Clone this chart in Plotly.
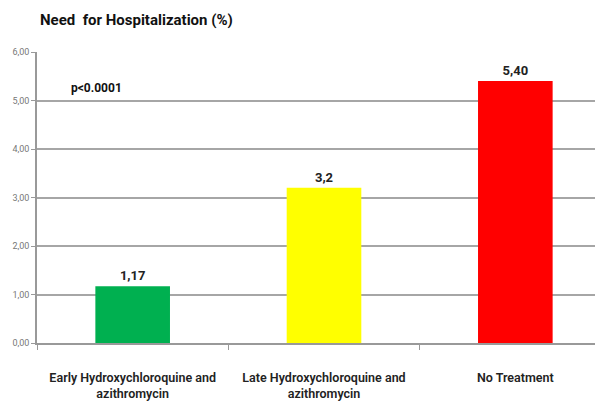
import plotly.graph_objects as go

categories = ["Early Hydroxychloroquine and<br>azithromycin",
              "Late Hydroxychloroquine and<br>azithromycin",
              "No Treatment"]
values = [1.17, 3.2, 5.40]
value_labels = ["1,17", "3,2", "5,40"]
colors = ["#00B050", "#FFFF00", "#FF0000"]
y_ticks = [0, 1, 2, 3, 4, 5, 6]
y_tick_labels = ["0,00", "1,00", "2,00", "3,00", "4,00", "5,00", "6,00"]

FONT = "Roboto, sans-serif"

fig = go.Figure()
fig.add_trace(go.Bar(
    x=categories, y=values, marker_color=colors, width=0.39,
    text=value_labels, textposition="outside", cliponaxis=False,
    texttemplate="<b>%{text}</b>",
    textfont=dict(family=FONT, size=13, color="#222222"),
    marker_line_width=0,
))

fig.update_layout(
    width=603, height=413,
    margin=dict(l=29, r=0, t=44, b=78),
    paper_bgcolor="white", plot_bgcolor="white",
    showlegend=False,
    font=dict(family=FONT, color="#222222"),
    title=dict(text="<b>Need  for Hospitalization (%)</b>", x=0.053, xanchor="left",
               y=0.971, yanchor="middle", font=dict(family=FONT, size=15, color="#111111")),
    xaxis=dict(range=[-0.5, 2.5], showline=True, linecolor="#999999", linewidth=1.5,
               ticks="outside", tickson="boundaries", ticklen=5, tickcolor="#999999",
               ticklabelstandoff=22,
               tickfont=dict(family=FONT, size=12.5, color="#222222", weight=600)),
    yaxis=dict(range=[0, 6], tickvals=y_ticks, ticktext=y_tick_labels,
               showgrid=True, gridcolor="#a6a6a6", gridwidth=1.8,
               showline=True, linecolor="#999999", linewidth=1.5,
               ticks="outside", ticklen=4, tickcolor="#999999",
               tickfont=dict(family=FONT, size=9, color="#777777"), zeroline=False),
)

fig.add_annotation(x=0.055, xref="paper", xanchor="left", y=5.25, yref="y",
                   text="<b>p<0.0001</b>", showarrow=False,
                   font=dict(family=FONT, size=12, color="#111111"))

fig.write_html("out.html")
